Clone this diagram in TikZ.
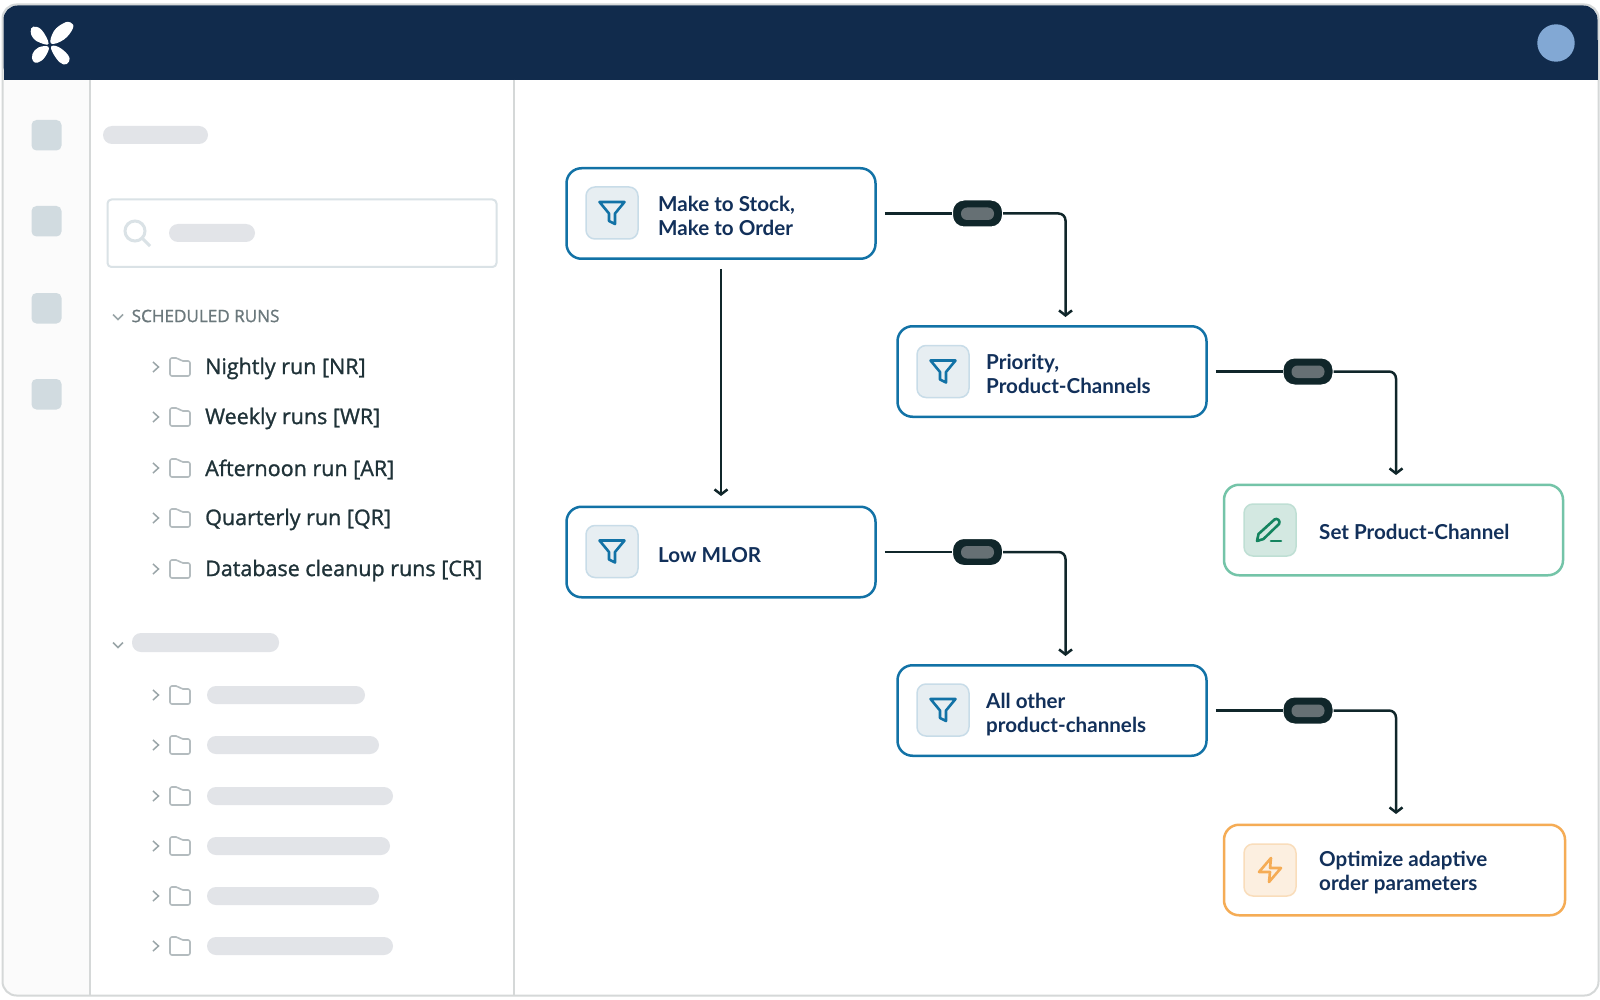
\documentclass[tikz,border=0pt]{standalone}
\usepackage{fontspec}
\usetikzlibrary{arrows.meta,positioning,calc}
\setmainfont{Open Sans}[FakeBold=1.2]
\newfontfamily\boxfont{Lato}
\definecolor{navy}{HTML}{112B4C}
\definecolor{txtnavy}{HTML}{12305A}
\definecolor{frameg}{HTML}{D5D8D8}
\definecolor{railbg}{HTML}{FBFBFB}
\definecolor{square}{HTML}{D1DBE0}
\definecolor{searchline}{HTML}{DAE2E6}
\definecolor{barg}{HTML}{E2E4E8}
\definecolor{chevg}{HTML}{9AA5A8}
\definecolor{foldg}{HTML}{B4BCBF}
\definecolor{sidetxt}{HTML}{1F3238}
\definecolor{headtxt}{HTML}{6B787C}
\definecolor{flowblue}{HTML}{1272A6}
\definecolor{bluefill}{HTML}{E7EEF2}
\definecolor{blueedge}{HTML}{C8DCE8}
\definecolor{flowgreen}{HTML}{74C4A8}
\definecolor{greenfill}{HTML}{D3E8E1}
\definecolor{greenedge}{HTML}{BFDFD4}
\definecolor{greenicon}{HTML}{14845F}
\definecolor{floworange}{HTML}{F5AC55}
\definecolor{orangefill}{HTML}{FCEFE0}
\definecolor{orangeedge}{HTML}{F9DDBB}
\definecolor{conn}{HTML}{10262A}
\definecolor{pillin}{HTML}{667074}
\definecolor{avatar}{HTML}{82A8D4}
\tikzset{
  flowbox/.style={draw=#1,line width=2.5pt,fill=white,rounded corners=15pt,minimum height=90.5pt,inner sep=0pt},
  iconbox/.style n args={2}{draw=#2,fill=#1,line width=1.5pt,rounded corners=9pt,minimum width=52pt,minimum height=52pt,inner sep=0pt},
  flowtext/.style={font=\boxfont\bfseries\fontsize{20.6}{24}\selectfont,text=txtnavy,align=left,anchor=west,inner sep=0pt},
  sidetext/.style={font=\fontsize{21.5}{24}\selectfont,text=sidetxt,anchor=west,inner sep=0pt},
  pillnode/.style={fill=conn,draw=white,line width=2pt,rounded corners=12pt,minimum width=51pt,minimum height=28pt,inner sep=0pt,outer sep=0pt},
  conline/.style={draw=conn,line width=2.5pt,rounded corners=7pt},
  conarrow/.style={conline,-{Straight Barb[length=5pt,width=13pt,line width=2.5pt]}},
  bar/.style={fill=barg,rounded corners=9pt},
  chevright/.pic={\draw[chevg,line width=1.5pt] (-2.5,-5) -- (3,0) -- (-2.5,5);},
  chevdown/.pic={\draw[chevg,line width=1.5pt] (-5,-2.5) -- (0,2.5) -- (5,-2.5);},
  folder/.pic={\draw[foldg,line width=1.6pt,rounded corners=2pt] (-10,9) -- (-10,-9) -- (-2,-9) -- (1,-6) -- (10,-6) -- (10,9) -- cycle;},
  funnel/.pic={\draw[flowblue,line width=2.6pt,line join=round] (-12.5,-11) -- (12.5,-11) -- (3,0.5) -- (3,11) -- (-3,8) -- (-3,0.5) -- cycle;},
  pencil/.pic={\draw[greenicon,line width=2.6pt,line join=round,line cap=round] (-13,11) -- (-11.5,4) -- (4.5,-10.5) .. controls (7,-12.5) and (11,-9) .. (9,-6) -- (-6.5,9) -- cycle;
    \draw[greenicon,line width=2.6pt,line cap=round] (1,11) -- (11,11);},
  bolt/.pic={\draw[floworange,line width=2.6pt,line join=round] (1,-12) -- (-11,2) -- (0,2) -- (-1,12) -- (11,-2) -- (0,-2) -- cycle;},
}
\begin{document}
\begin{tikzpicture}[x=1pt,y=-1pt]
\useasboundingbox (0,0) rectangle (1600,1000);
\fill[white] (0,0) rectangle (1600,1000);
% window
\fill[railbg,rounded corners=14pt] (3,5) rectangle (90,995);
\fill[railbg] (40,5) rectangle (90,995);
\draw[frameg,line width=2pt,rounded corners=14pt] (2.5,4.5) rectangle (1598.5,995.5);
\fill[navy,rounded corners=14pt] (3.5,5.5) -- (1597.5,5.5) -- (1597.5,80) -- (3.5,80) -- cycle;
\fill[navy] (3.5,40) rectangle (1597.5,80);
\draw[frameg,line width=2pt] (90,80) -- (90,995) (514,80) -- (514,995);
\fill[avatar] (1556,43) circle (18.7);
% logo
\fill[white] plot[smooth cycle,tension=0.7] coordinates {(51,43.5) (54,31) (64,23) (70.5,22.5) (73,28) (64,39.5)};
\fill[white] plot[smooth cycle,tension=0.7] coordinates {(48.6,43.6) (41.7,30) (33.3,26.7) (30.7,31.7) (33.3,38.3) (40,42.7)};
\fill[white] plot[smooth cycle,tension=0.7] coordinates {(48.6,47) (38.5,47.5) (32.5,54) (33,61) (38,62.5) (45,57)};
\fill[white] plot[smooth cycle,tension=0.7] coordinates {(51,47) (58.5,47) (68,55) (69,61.5) (63.5,64.5) (56,58)};
% rail squares
\foreach \y in {120,206,293,379}
  \fill[square,rounded corners=5pt] (31.5,\y) rectangle (61.5,\y+30.5);
% side panel
\fill[bar] (103,126) rectangle (208,144);
\draw[searchline,line width=2pt,rounded corners=4pt] (107.5,199.5) rectangle (496.5,267);
\draw[searchline,line width=3pt] (135,231) circle (10);
\draw[searchline,line width=3pt] (142,238) -- (150,246);
\fill[bar] (169,224) rectangle (255,242);
\pic at (118,317) {chevdown};
\node[sidetext,text=headtxt,font=\fontsize{17.1}{20}\selectfont] (schedhead) at (131.5,316) {SCHEDULED RUNS};
\foreach \y/\t/\n in {367/Nightly run [NR]/ra,417/Weekly runs [WR]/rb,468/Afternoon run [AR]/rc,518/Quarterly run [QR]/rd,569/Database cleanup runs [CR]/re}{
  \pic at (155.5,\y) {chevright};
  \pic at (180,\y) {folder};
  \node[sidetext] (\n) at (205,\y+1.5) {\t};
}
\pic at (118,645) {chevdown};
\fill[bar] (132,633) rectangle (279,652);
\foreach \y/\e in {695/365,745/379,796/393,846/390,896/379,946/393}{
  \pic at (155.5,\y) {chevright};
  \pic at (180,\y) {folder};
  \fill[bar] (207,\y-9) rectangle (\e,\y+9);
}
% flow boxes
\node[flowbox=flowblue,minimum width=309pt] (b1) at (721,213.5) {};
\node[flowbox=flowblue,minimum width=309pt] (b2) at (1052,371.5) {};
\node[flowbox=flowblue,minimum width=309pt] (b3) at (721,552) {};
\node[flowbox=flowblue,minimum width=309pt] (b4) at (1052,710.5) {};
\node[flowbox=flowgreen,minimum width=339pt] (b5) at (1393.5,530) {};
\node[flowbox=floworange,minimum width=341pt] (b6) at (1394.5,870) {};
% icons
\node[iconbox={bluefill}{blueedge}] (i1) at (612,213) {};
\node[iconbox={bluefill}{blueedge}] (i2) at (943,371.5) {};
\node[iconbox={bluefill}{blueedge}] (i3) at (612,551.5) {};
\node[iconbox={bluefill}{blueedge}] (i4) at (943,710) {};
\node[iconbox={greenfill}{greenedge}] (i5) at (1270,530) {};
\node[iconbox={orangefill}{orangeedge}] (i6) at (1270,870) {};
\pic at (i1) {funnel};
\pic at (i2) {funnel};
\pic at (i3) {funnel};
\pic at (i4) {funnel};
\pic at (i5) {pencil};
\pic at (i6) {bolt};
% flow texts
\node[flowtext] (t1) at (658,215.5) {Make to Stock,\\Make to Order};
\node[flowtext] (t2) at (986,373.8) {Priority,\\Product-Channels};
\node[flowtext] (t3) at (658,555) {Low MLOR};
\node[flowtext] (t4) at (986,715) {All other\\product-channels};
\node[flowtext] (t5) at (1319,532) {Set Product-Channel};
\node[flowtext] (t6) at (1319,873) {Optimize adaptive\\order parameters};
% connectors
\node[pillnode] (p1) at (977.5,213.5) {};
\node[pillnode] (p2) at (1308,371.5) {};
\node[pillnode] (p3) at (977.5,552) {};
\node[pillnode] (p4) at (1308,710.5) {};
\fill[pillin,rounded corners=6pt] (961,207.5) rectangle (994,220);
\fill[pillin,rounded corners=6pt] (1291.5,365.5) rectangle (1324.5,378);
\fill[pillin,rounded corners=6pt] (961,546) rectangle (994,558.5);
\fill[pillin,rounded corners=6pt] (1291.5,704.5) rectangle (1324.5,717);
\coordinate (e1) at (1065.5,317);
\coordinate (e2) at (1396,475);
\coordinate (e3) at (1065.5,656);
\coordinate (e4) at (1396,814);
\coordinate (e5) at (721,496);
\draw[conline] ([xshift=8pt]b1.east) -- (p1.west);
\draw[conarrow] (p1.east) -| (e1);
\draw[conline] ([xshift=8pt]b2.east) -- (p2.west);
\draw[conarrow] (p2.east) -| (e2);
\draw[conline] ([xshift=8pt]b3.east) -- (p3.west);
\draw[conarrow] (p3.east) -| (e3);
\draw[conline] ([xshift=8pt]b4.east) -- (p4.west);
\draw[conarrow] (p4.east) -| (e4);
\draw[conarrow] ([yshift=-9pt]b1.south) -- (e5);
\end{tikzpicture}
\end{document}
